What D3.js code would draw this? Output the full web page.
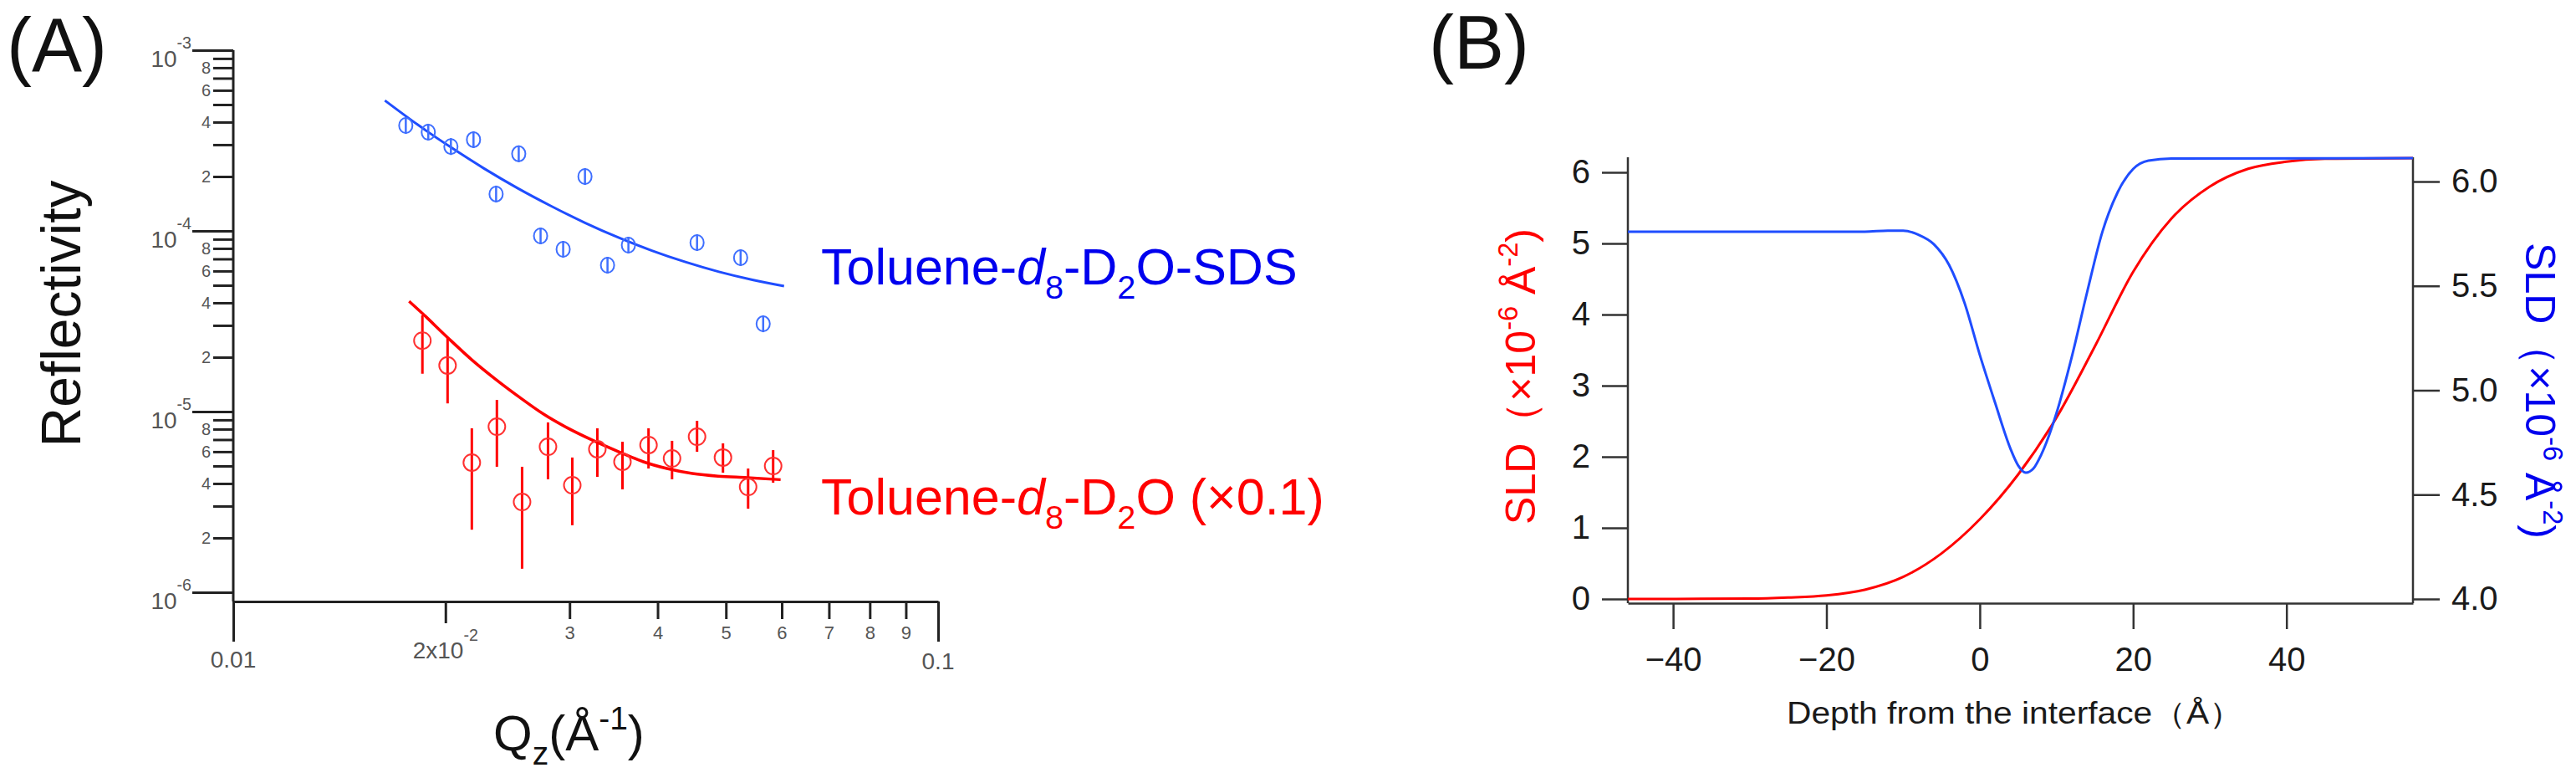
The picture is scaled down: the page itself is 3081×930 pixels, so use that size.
<!DOCTYPE html>
<html>
<head>
<meta charset="utf-8">
<script src="https://cdn.jsdelivr.net/npm/d3@7"></script>
<style>
  body { margin: 0; background: #fff; }
  text { font-family: Arial, "Liberation Sans", sans-serif; }
</style>
</head>
<body>
<div id="chart"></div>
<script>
// ---- (A) reflectivity data
const blueQ = [0.01757, 0.01891, 0.02036, 0.02192, 0.02360, 0.02541, 0.02729, 0.02938, 0.03155, 0.03396, 0.03636, 0.04550, 0.05246, 0.05647];
const blueR = [3.83e-4, 3.52e-4, 2.93e-4, 3.20e-4, 1.60e-4, 2.67e-4, 9.38e-5, 7.91e-5, 2.00e-4, 6.46e-5, 8.34e-5, 8.61e-5, 7.11e-5, 3.06e-5];

const redQ  = [0.01855, 0.02014, 0.02180, 0.02366, 0.02569, 0.02796, 0.03027, 0.03285, 0.03566, 0.03883, 0.04193, 0.04550, 0.04952, 0.05376, 0.05834];
const redR  = [2.47e-5, 1.80e-5, 5.22e-6, 8.25e-6, 3.16e-6, 6.39e-6, 3.91e-6, 6.19e-6, 5.28e-6, 6.53e-6, 5.50e-6, 7.26e-6, 5.57e-6, 3.83e-6, 5.00e-6];
const redHi = [3.41e-5, 2.58e-5, 8.08e-6, 1.16e-5, 4.95e-6, 8.71e-6, 5.57e-6, 8.08e-6, 6.81e-6, 8.08e-6, 6.89e-6, 8.89e-6, 6.67e-6, 4.84e-6, 6.12e-6];
const redLo = [1.62e-5, 1.11e-5, 2.22e-6, 4.95e-6, 1.35e-6, 4.22e-6, 2.35e-6, 4.35e-6, 3.71e-6, 4.84e-6, 4.22e-6, 5.99e-6, 4.59e-6, 2.90e-6, 4.04e-6];

// fitted curves
const blueFitQ = [0.01641, 0.01825, 0.02036, 0.02271, 0.02534, 0.02827, 0.03155, 0.03519, 0.03926, 0.04380, 0.04887, 0.05452, 0.06046];
const blueFitR = [5.27e-4, 3.88e-4, 2.90e-4, 2.21e-4, 1.72e-4, 1.37e-4, 1.109e-4, 9.19e-5, 7.78e-5, 6.73e-5, 5.94e-5, 5.36e-5, 4.95e-5];
const redFitQ  = [0.01776, 0.01857, 0.02014, 0.02178, 0.02356, 0.02548, 0.02756, 0.02981, 0.03242, 0.03524, 0.03811, 0.04123, 0.04482, 0.04874, 0.05357, 0.05978];
const redFitR  = [4.08e-5, 3.48e-5, 2.57e-5, 1.94e-5, 1.51e-5, 1.20e-5, 9.68e-6, 8.11e-6, 6.91e-6, 5.99e-6, 5.29e-6, 4.84e-6, 4.54e-6, 4.39e-6, 4.31e-6, 4.20e-6];

const yDecades = [1e-3, 1e-4, 1e-5, 1e-6];
const yDecadeLabels = ['-3', '-4', '-5', '-6'];
const yMinorMult = [2, 3, 4, 5, 6, 7, 8, 9];
const yMinorLabelled = [2, 4, 6, 8];
const xMinor = [0.03, 0.04, 0.05, 0.06, 0.07, 0.08, 0.09];
const xMinorLabels = ['3', '4', '5', '6', '7', '8', '9'];

// ---- (B) SLD profiles
const depthRed = [-45.9, -30, -25, -20, -15, -10, -5, 0, 5, 10, 15, 20, 25, 30, 35, 40, 45, 56.5];
const sldRed   = [0, 0.005, 0.02, 0.05, 0.13, 0.31, 0.64, 1.12, 1.75, 2.55, 3.55, 4.6, 5.35, 5.8, 6.05, 6.15, 6.19, 6.2];
const depthBlue = [-45.9, -15, -12, -10, -8, -6, -4, -2, 0, 2, 4, 5, 6, 7, 8, 10, 12, 14, 16, 18, 20, 22, 25, 56.5];
const sldBlue   = [5.76, 5.76, 5.765, 5.765, 5.745, 5.70, 5.60, 5.42, 5.17, 4.94, 4.72, 4.64, 4.605, 4.625, 4.69, 4.89, 5.16, 5.47, 5.76, 5.95, 6.06, 6.10, 6.11, 6.112];

const depthTicks = [-40, -20, 0, 20, 40];
const leftTicks = [0, 1, 2, 3, 4, 5, 6];
const rightTicks = [4.0, 4.5, 5.0, 5.5, 6.0];

const RED = '#ff0000';
const BLUE = '#1f4dff';
const AXIS = '#222';

const svg = d3.select('#chart').append('svg')
    .attr('width', 3081)
    .attr('height', 930);
svg.append('rect').attr('width', 3081).attr('height', 930).attr('fill', '#fff');

// text with sub/superscript parts
function rich(sel, parts, size) {
    let shift = 0;
    parts.forEach(p => {
        const target = p.sup ? -(p.raise || 0.42) * size : p.sub ? 0.28 * size : 0;
        const ts = sel.append('tspan').text(p.t).attr('dy', target - shift);
        shift = target;
        if (p.sup || p.sub) ts.attr('font-size', size * (p.scale || 0.65));
        if (p.it) ts.attr('font-style', 'italic');
    });
    return sel;
}

// ================= panel A =================
const xA = d3.scaleLog().domain([0.01, 0.1]).range([279, 1122]);
const yA = d3.scaleLog().domain([1e-6, 1e-3]).range([708, 60]);
const xAxisY = 719;

const gA = svg.append('g').style('color', AXIS);

// y ticks
const yMinor = [];
yDecades.slice(1).forEach(d => yMinorMult.forEach(m => yMinor.push(d * m)));

gA.append('g')
    .attr('transform', `translate(${xA(0.01)},0)`)
    .call(d3.axisLeft(yA).tickValues(yDecades).tickSize(49).tickFormat(''))
    .call(g => g.select('.domain').remove())
    .call(g => g.selectAll('line').attr('stroke-width', 3));

gA.append('g')
    .attr('transform', `translate(${xA(0.01)},0)`)
    .call(d3.axisLeft(yA).tickValues(yMinor).tickSize(24).tickPadding(3)
        .tickFormat(d => {
            const m = Math.round(d / Math.pow(10, Math.floor(Math.log10(d) + 1e-9)));
            return yMinorLabelled.includes(m) ? m : '';
        }))
    .call(g => g.select('.domain').remove())
    .call(g => g.selectAll('line').attr('stroke-width', 3))
    .call(g => g.selectAll('text').attr('font-size', 20).attr('fill', '#555')
        .attr('font-family', 'Arial, sans-serif'));

yDecades.forEach((d, i) => {
    const t = gA.append('text')
        .attr('x', 229).attr('y', yA(d) + 20)
        .attr('text-anchor', 'end').attr('font-size', 28).attr('fill', '#555');
    rich(t, [{ t: '10' }, { t: yDecadeLabels[i], sup: true, raise: 0.78, scale: 0.7 }], 28);
});

// y axis line and x axis line
gA.append('line')
    .attr('x1', xA(0.01)).attr('x2', xA(0.01))
    .attr('y1', yA(1e-3)).attr('y2', xAxisY)
    .attr('stroke', AXIS).attr('stroke-width', 3);

const gx = gA.append('g').attr('transform', `translate(0,${xAxisY})`);
gx.call(d3.axisBottom(xA).tickValues([0.01, 0.1]).tickSize(48).tickSizeOuter(0).tickFormat(''))
    .call(g => g.select('.domain').attr('stroke-width', 3))
    .call(g => g.selectAll('line').attr('stroke-width', 3));
gx.append('g')
    .call(d3.axisBottom(xA).tickValues([0.02]).tickSize(26).tickFormat(''))
    .call(g => g.select('.domain').remove())
    .call(g => g.selectAll('line').attr('stroke-width', 3));
gx.append('g')
    .call(d3.axisBottom(xA).tickValues(xMinor).tickSize(21).tickPadding(8)
        .tickFormat((d, i) => xMinorLabels[i]))
    .call(g => g.select('.domain').remove())
    .call(g => g.selectAll('line').attr('stroke-width', 3))
    .call(g => g.selectAll('text').attr('font-size', 22).attr('fill', '#555')
        .attr('font-family', 'Arial, sans-serif'));

gA.append('text').attr('x', xA(0.01)).attr('y', 798)
    .attr('text-anchor', 'middle').attr('font-size', 28).attr('fill', '#555').text('0.01');
gA.append('text').attr('x', xA(0.1)).attr('y', 800)
    .attr('text-anchor', 'middle').attr('font-size', 28).attr('fill', '#555').text('0.1');
rich(gA.append('text').attr('x', xA(0.02)).attr('y', 787)
    .attr('text-anchor', 'middle').attr('font-size', 28).attr('fill', '#555'),
    [{ t: '2x10' }, { t: '-2', sup: true, raise: 0.75, scale: 0.7 }], 28);

// fitted lines
const lineA = d3.line().x(d => xA(d[0])).y(d => yA(d[1])).curve(d3.curveMonotoneX);
gA.append('path').datum(blueFitQ.map((q, i) => [q, blueFitR[i]]))
    .attr('d', lineA).attr('fill', 'none').attr('stroke', BLUE).attr('stroke-width', 3);
gA.append('path').datum(redFitQ.map((q, i) => [q, redFitR[i]]))
    .attr('d', lineA).attr('fill', 'none').attr('stroke', RED).attr('stroke-width', 3.5);

// red points with error bars
const redPts = redQ.map((q, i) => ({ q, r: redR[i], lo: redLo[i], hi: redHi[i] }));
const rp = gA.append('g').selectAll('g').data(redPts).join('g');
rp.append('line')
    .attr('x1', d => xA(d.q)).attr('x2', d => xA(d.q))
    .attr('y1', d => yA(d.hi)).attr('y2', d => yA(d.lo))
    .attr('stroke', RED).attr('stroke-width', 3);
rp.append('ellipse')
    .attr('cx', d => xA(d.q)).attr('cy', d => yA(d.r))
    .attr('rx', 10).attr('ry', 10)
    .attr('fill', 'none').attr('stroke', '#ff3030').attr('stroke-width', 2);

// blue points
const bluePts = blueQ.map((q, i) => ({ q, r: blueR[i] }));
const bp = gA.append('g').selectAll('g').data(bluePts).join('g');
bp.append('ellipse')
    .attr('cx', d => xA(d.q)).attr('cy', d => yA(d.r))
    .attr('rx', 8).attr('ry', 9)
    .attr('fill', 'none').attr('stroke', '#3f6fff').attr('stroke-width', 2);
bp.append('line')
    .attr('x1', d => xA(d.q)).attr('x2', d => xA(d.q))
    .attr('y1', d => yA(d.r) - 10).attr('y2', d => yA(d.r) + 10)
    .attr('stroke', '#3f6fff').attr('stroke-width', 2.5);

// labels
svg.append('text').attr('x', 8).attr('y', 85).attr('font-size', 90).attr('fill', '#111').text('(A)');
svg.append('text')
    .attr('transform', 'translate(96,375) rotate(-90)')
    .attr('text-anchor', 'middle').attr('font-size', 66).attr('fill', '#111')
    .text('Reflectivity');
rich(svg.append('text').attr('x', 590).attr('y', 897).attr('font-size', 60).attr('fill', '#111'),
    [{ t: 'Q' }, { t: 'z', sub: true }, { t: '(Å' }, { t: '-1', sup: true }, { t: ')' }], 60);

rich(svg.append('text').attr('x', 982).attr('y', 340).attr('font-size', 61).attr('fill', '#0000ee'),
    [{ t: 'Toluene-' }, { t: 'd', it: true }, { t: '8', sub: true }, { t: '-D' }, { t: '2', sub: true }, { t: 'O-SDS' }], 61);
rich(svg.append('text').attr('x', 982).attr('y', 615).attr('font-size', 61).attr('fill', RED),
    [{ t: 'Toluene-' }, { t: 'd', it: true }, { t: '8', sub: true }, { t: '-D' }, { t: '2', sub: true }, { t: 'O (×0.1)' }], 61);

// ================= panel B =================
const xB = d3.scaleLinear().domain([-45.9, 56.5]).range([1947, 2886]);
const yL = d3.scaleLinear().domain([0, 6]).range([716, 206]);
const yR = d3.scaleLinear().domain([4, 6]).range([716, 217]);
const topB = 188, baseB = 721;
const tickFont = '"Liberation Sans Narrow", "Arial Narrow", Arial, sans-serif';

const gB = svg.append('g').style('color', '#333');

gB.append('g').attr('transform', `translate(${xB.range()[0]},0)`)
    .call(d3.axisLeft(yL).tickValues(leftTicks).tickSize(31).tickPadding(14).tickFormat(d3.format('d')))
    .call(g => g.select('.domain').remove());
gB.append('g').attr('transform', `translate(${xB.range()[1]},0)`)
    .call(d3.axisRight(yR).tickValues(rightTicks).tickSize(32).tickPadding(14).tickFormat(d3.format('.1f')))
    .call(g => g.select('.domain').remove());
gB.append('g').attr('transform', `translate(0,${baseB})`)
    .call(d3.axisBottom(xB).tickValues(depthTicks).tickSize(31).tickSizeOuter(0).tickPadding(22)
        .tickFormat(d => d < 0 ? '\u2212' + Math.abs(d) : d));
gB.selectAll('line, path').attr('stroke-width', 2.5);
gB.selectAll('text').attr('font-size', 40).attr('fill', '#1a1a1a').attr('font-family', tickFont);

[xB.range()[0], xB.range()[1]].forEach(x => {
    gB.append('line').attr('x1', x).attr('x2', x).attr('y1', topB).attr('y2', baseB)
        .attr('stroke', '#333').attr('stroke-width', 2.5);
});

const lineB = (ys) => d3.line().x(d => xB(d[0])).y(d => ys(d[1])).curve(d3.curveMonotoneX);
gB.append('path').datum(depthRed.map((x, i) => [x, sldRed[i]]))
    .attr('d', lineB(yL)).attr('fill', 'none').attr('stroke', RED).attr('stroke-width', 3);
gB.append('path').datum(depthBlue.map((x, i) => [x, sldBlue[i]]))
    .attr('d', lineB(yR)).attr('fill', 'none').attr('stroke', BLUE).attr('stroke-width', 3);

svg.append('text').attr('x', 1709).attr('y', 82).attr('font-size', 90).attr('fill', '#111').text('(B)');

const sldParts = [{ t: 'SLD（×10' }, { t: '-6', sup: true }, { t: ' Å' }, { t: '-2', sup: true }, { t: ')' }];
rich(svg.append('text').attr('transform', 'translate(1836,450) rotate(-90)')
    .attr('text-anchor', 'middle').attr('font-size', 50).attr('fill', RED), sldParts, 50);
rich(svg.append('text').attr('transform', 'translate(3021,467) rotate(90)')
    .attr('text-anchor', 'middle').attr('font-size', 50).attr('fill', '#0000ee'), sldParts, 50);

svg.append('text').attr('x', 2137).attr('y', 865)
    .attr('font-family', '"Noto Sans CJK JP", sans-serif')
    .attr('font-size', 36).attr('fill', '#1a1a1a')
    .attr('textLength', 546).attr('lengthAdjust', 'spacingAndGlyphs')
    .text('Depth from the interface（Å）');
</script>
</body>
</html>
